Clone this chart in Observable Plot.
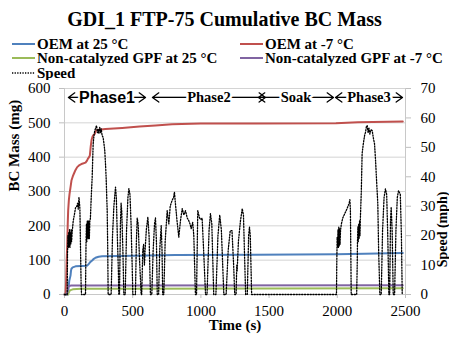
<!DOCTYPE html>
<html>
<head>
<meta charset="utf-8">
<script src="https://cdn.jsdelivr.net/npm/d3@7"></script>
<script src="https://cdn.jsdelivr.net/npm/@observablehq/plot@0.6"></script>
<style>
  html, body { margin: 0; padding: 0; background: #fff; }
  #wrap { position: relative; width: 449px; height: 337px; overflow: hidden; font-family: "Liberation Serif", serif; color: #000; }
  #title { position: absolute; left: 0; top: 6px; width: 449px; text-align: center; font-weight: bold; font-size: 20px; line-height: 26px; }
  .leg { position: absolute; font-weight: bold; font-size: 15px; line-height: 14px; height: 14px; white-space: nowrap; display: flex; align-items: center; }
  .leg svg { margin-right: 2px; display: block; }
  #chart { position: absolute; left: 0; top: 80px; }
</style>
</head>
<body>
<div id="wrap">
  <div id="title"></div>
  <div id="legend"></div>
  <div id="chart"></div>
</div>
<script>
// ---------------- data ----------------
const titleText = "GDI_1 FTP-75 Cumulative BC Mass";
const xTicks = [0, 500, 1000, 1500, 2000, 2500];
const mgTicks = [0, 100, 200, 300, 400, 500, 600];
const mphTicks = [0, 10, 20, 30, 40, 50, 60, 70];
const MG_MAX = 600, MPH_MAX = 70;

const seriesNames = ["OEM at 25 °C", "OEM at -7 °C", "Non-catalyzed GPF at 25 °C", "Non-catalyzed GPF at -7 °C", "Speed"];
const seriesColors = ["#4f81bd", "#c0504d", "#9bbb59", "#8064a2", "#000000"];

// [time s, cumulative BC mg]
const oem25 = [[0,0],[25,0],[30,20],[35,40],[44,55],[48,70],[51,75],[60,79],[81,82],[166,84],[178,89],[190,95],[203,99],[215,104],[227,107],[250,110],[276,111.5],[400,112],[814,115],[1400,116],[1990,117],[2200,119],[2480,121]];
const oemM7 = [[0,0],[8,5],[12,40],[16,100],[20,147],[24,210],[27,245],[32,275],[37,293],[44,312],[51,332],[60,343],[68,351],[80,362],[93,371],[110,377],[130,381],[154,384],[165,390],[171,395],[180,400],[186,405],[192,430],[198,449],[204,458],[210,463],[222,468],[232,478],[250,480],[300,482],[423,485],[550,489],[667,492],[789,496],[1000,498],[1400,498],[1990,499],[2150,502],[2480,504]];
const gpf25 = [[0,0],[25,0],[32,6],[40,12],[60,15],[120,16.5],[500,17],[2480,18]];
const gpfM7 = [[0,0],[18,0],[22,10],[26,20],[32,25],[50,26],[2480,27]];

// [time s, speed mph]
const speed = [[0,0],[20,0],[22,14],[25,20],[28,16],[31,21],[34,16],[37,22],[40,16],[43,21],[46,17],[49,22],[52,18],[56,21],[60,23],[64,25],[72,27],[81,29.5],[90,30],[96,31],[101,29],[106,33],[110,31],[113,29],[118,14],[122,3],[125,0],
[154,0],[156,10],[158,18],[161,24],[164,18],[167,25],[170,19],[173,25],[176,19],[179,25],[182,19],[186,25],[190,26],[196,33],[203,40],[210,51],[216,54],[222,55.7],[228,56.5],[235,57.4],[242,55],[247,56],[252,54.6],[258,56.8],[264,55],[269,56.3],[276,54],[283,53.4],[290,51],[295,49],[300,45],[305,40],[313,28.5],[317,15],[320,0],
[342,0],[352,20],[362,30],[374,36.5],[380,33],[386,22],[395,8],[398,0],
[403,0],[410,24],[415,31],[420,28],[428,15],[435,0],
[445,0],[455,22],[465,33],[472,36],[480,34],[488,24],[496,10],[501,0],
[520,0],[527,18],[533,26],[540,24],[550,12],[562,0],
[566,0],[574,15],[580,17],[586,10],[592,16],[600,22],[611,26.3],[620,20],[630,0],
[640,0],[650,15],[660,24],[667,26],[674,18],[680,0],
[690,0],[698,15],[709,23.4],[715,15],[720,0],
[728,0],[738,18],[753,28.5],[765,24],[775,30],[789,32],[800,33],[806,34.8],[815,30],[825,25],[838,19.5],[850,25],[863,29.2],[875,27],[887,28.5],[900,26],[911,25.1],[920,24],[929,22.4],[940,24.5],[948,20],[955,8],[960,0],
[968,0],[977,28.5],[990,26],[1000,25.5],[1009,26],[1020,15],[1034,0],
[1045,0],[1060,22],[1070,27.5],[1080,24],[1094,0],
[1110,0],[1125,20],[1138,27],[1150,22],[1168,0],
[1185,0],[1200,15],[1215,21.7],[1228,21.7],[1240,10],[1248,0],
[1258,0],[1263,10],[1266,8],[1275,18],[1290,25],[1303,29.2],[1312,27],[1322,10],[1328,0],
[1340,0],[1350,20],[1356,22.9],[1362,20],[1372,0],
[1994,0],[1996,10],[1999,19.5],[2002,16],[2005,22],[2008,16],[2011,23],[2014,16.5],[2017,22.5],[2020,17],[2024,22],[2030,24],[2040,26],[2055,27.5],[2070,29],[2080,30.2],[2087,31],[2092,32.2],[2096,29],[2099,15],[2102,0],
[2142,0],[2146,10],[2148,18],[2151,23],[2154,18],[2157,24],[2160,19],[2163,25],[2166,20],[2170,27],[2176,35],[2182,47.9],[2190,51],[2200,54],[2207,55.2],[2213,57],[2219,57.4],[2226,55],[2232,56.5],[2239,54.5],[2246,56],[2256,55.7],[2265,53],[2273,51.2],[2280,46],[2288,38.7],[2297,30.8],[2303,15],[2312,0],
[2322,0],[2332,22],[2343,33],[2353,35.9],[2362,34],[2370,20],[2378,0],
[2384,0],[2390,25],[2395,29.7],[2402,22],[2410,0],
[2420,0],[2430,22],[2440,33],[2449,35.3],[2462,34],[2470,20],[2476,0]];

// phases: [label, start s, end s]
const phases = [["Phase1", 29, 594], ["Phase2", 645, 1473], ["Soak", 1422, 1972], ["Phase3", 1987, 2478]];
const PHASE_LEVEL_MG = 574;

// ---------------- build ----------------
document.getElementById("title").textContent = titleText;

const legendItems = [
  {i: 0, left: 12, top: 36.5}, {i: 1, left: 240, top: 36.5},
  {i: 2, left: 12, top: 51}, {i: 3, left: 240, top: 51},
  {i: 4, left: 12, top: 65.5}
];
const legend = document.getElementById("legend");
for (const it of legendItems) {
  const d = document.createElement("div");
  d.className = "leg";
  d.style.left = it.left + "px";
  d.style.top = it.top + "px";
  const dash = it.i === 4 ? ' stroke-dasharray="1.3 1.3" stroke-width="1.4"' : ' stroke-width="2"';
  d.innerHTML = `<svg width="23" height="6"><line x1="0" x2="23" y1="3" y2="3" stroke="${seriesColors[it.i]}"${dash}/></svg>`;
  const tx = document.createElement("span");
  tx.textContent = seriesNames[it.i];
  d.appendChild(tx);
  legend.appendChild(d);
}

const toMg = s => s * MG_MAX / MPH_MAX;
const speedMg = speed.map(([t, v]) => [t, toMg(v)]);
const lines = [oem25, oemM7, gpf25, gpfM7];
const phaseObjs = phases.map(([name, a, b]) => ({name, a, b, mid: (a + b) / 2, y: PHASE_LEVEL_MG}));
const serif = "Liberation Serif, serif";
const fmt = d3.format("d");

const chart = Plot.plot({
  width: 449,
  height: 257,
  marginTop: 8,
  marginBottom: 43,
  marginLeft: 64,
  marginRight: 44,
  style: {fontFamily: serif, fontSize: "15px", color: "#000", background: "#fff", overflow: "visible"},
  x: {domain: [0, 2500]},
  y: {domain: [0, MG_MAX]},
  marks: [
    Plot.gridY(mgTicks.filter(d => d > 0), {stroke: "#d4d4d4", strokeOpacity: 1}),
    Plot.ruleX([0, 2500], {stroke: "#c8c8c8"}),
    Plot.ruleY([0], {stroke: "#c8c8c8"}),
    Plot.axisX(xTicks, {tickSize: 4, tickPadding: 7, stroke: "#bfbfbf", fill: "#000", label: null, fontFamily: serif, fontSize: 15, tickFormat: fmt}),
    Plot.axisY(mgTicks, {anchor: "left", tickSize: 5, tickPadding: 9, stroke: "#bfbfbf", fill: "#000", label: null, fontFamily: serif, fontSize: 15, tickFormat: fmt}),
    Plot.axisY(mphTicks.map(toMg), {anchor: "right", tickSize: 5, tickPadding: 10, stroke: "#bfbfbf", fill: "#000", label: null, fontFamily: serif, fontSize: 15,
      tickFormat: d => String(Math.round(d * MPH_MAX / MG_MAX))}),
    ...lines.map((ser, k) => Plot.line(ser, {x: d => d[0], y: d => d[1], stroke: seriesColors[k], strokeWidth: 2})),
    Plot.line(speedMg, {x: d => d[0], y: d => d[1], stroke: "#000", strokeWidth: 1.3, strokeDasharray: "1.3 1.5"}),
    Plot.ruleY(phaseObjs, {x1: "a", x2: "b", y: "y", stroke: "#000", strokeWidth: 1}),
    Plot.arrow(phaseObjs, {x1: "mid", x2: "a", y1: "y", y2: "y", stroke: "#000", strokeWidth: 1.3, headLength: 9, headAngle: 72}),
    Plot.arrow(phaseObjs, {x1: "mid", x2: "b", y1: "y", y2: "y", stroke: "#000", strokeWidth: 1.3, headLength: 9, headAngle: 72}),
    Plot.text(phaseObjs.filter(p => p.name === "Phase1"), {x: "mid", y: "y", text: "name", fontFamily: "Liberation Sans, sans-serif", fontWeight: "bold", fontSize: 16, stroke: "#fff", strokeWidth: 4, fill: "#000"}),
    Plot.text(phaseObjs.filter(p => p.name !== "Phase1"), {x: "mid", y: "y", text: "name", fontFamily: serif, fontWeight: "bold", fontSize: 14.5, stroke: "#fff", strokeWidth: 5, fill: "#000"}),
    Plot.text(["Time (s)"], {frameAnchor: "bottom", dy: 35, fontFamily: serif, fontWeight: "bold", fontSize: 15}),
    Plot.text(["BC Mass (mg)"], {frameAnchor: "left", dx: -50, rotate: -90, fontFamily: serif, fontWeight: "bold", fontSize: 15}),
    Plot.text(["Speed (mph)"], {frameAnchor: "right", dx: 37, rotate: -90, fontFamily: serif, fontWeight: "bold", fontSize: 14})
  ]
});
document.getElementById("chart").appendChild(chart);
</script>
</body>
</html>
